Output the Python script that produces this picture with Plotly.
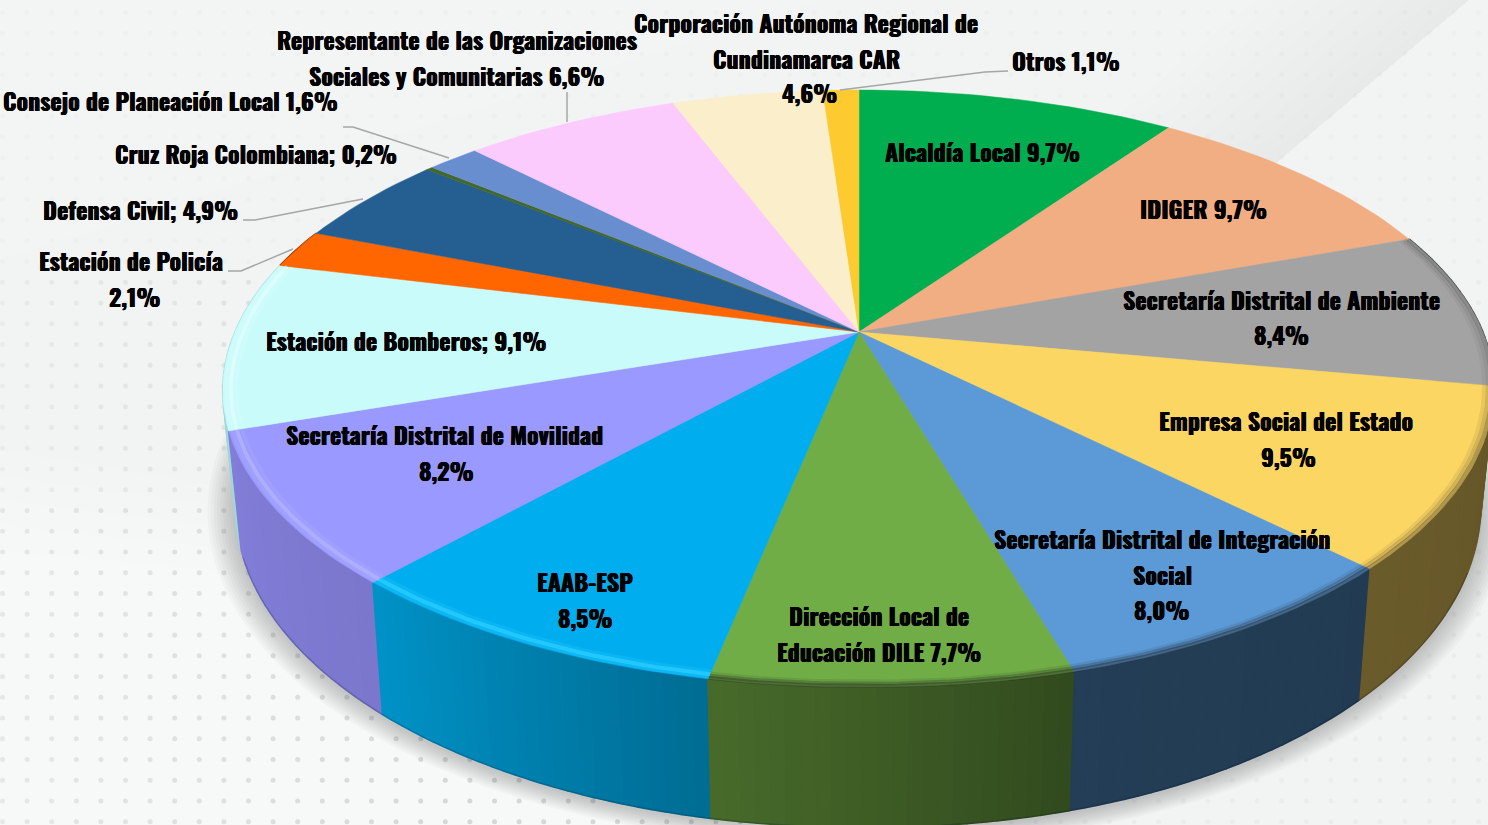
import numpy as np
import plotly.graph_objects as go

# ---------- data ----------
categories = ["Alcaldía Local", "IDIGER", "Secretaría Distrital de Ambiente", "Empresa Social del Estado",
              "Secretaría Distrital de Integración Social", "Dirección Local de Educación DILE", "EAAB-ESP",
              "Secretaría Distrital de Movilidad", "Estación de Bomberos", "Estación de Policía", "Defensa Civil",
              "Cruz Roja Colombiana", "Consejo de Planeación Local",
              "Representante de las Organizaciones Sociales y Comunitarias",
              "Corporación Autónoma Regional de Cundinamarca CAR", "Otros"]
values = [9.7, 9.7, 8.4, 9.5, 8.0, 7.7, 8.5, 8.2, 9.1, 2.1, 4.9, 0.2, 1.6, 6.6, 4.6, 1.1]

# ---------- styles ----------
top_colors = ["#00ae50", "#f1ae82", "#a3a3a3", "#fcd663", "#5b9ad6", "#70ad47", "#00aeef", "#9999ff",
              "#c9fbfb", "#ff6600", "#255e91", "#43682b", "#698ed0", "#fccbfe", "#fbeecb", "#fdcb2f"]
wall_colors = ["#005a2a", "#7d5a43", "#4f4f4f", "#68592a", "#233d55", "#3d5b25", "#0080ae", "#7f7bd3",
               "#a5dcdc", "#853500", "#133150", "#233616", "#37496c", "#836a84", "#827b69", "#836a18"]
wall_gradient = [0.03, 0.03, 0.03, 0.03, 0.02, 0.18, 0.15, 0.03, 0.03, 0.03, 0.03, 0.03, 0.03, 0.03, 0.03, 0.03]
rim_light = {6: ("40,205,255", 1.0), 7: ("178,178,255", 1.0), 8: ("238,255,255", 0.55)}
rim_dark = {2: 0.45, 3: 0.8, 4: 1.0, 5: 1.0}
FONT = "Liberation Sans Narrow, Oswald, Roboto, sans-serif"
TEXT_SIZE = 24

label_lines = [
    ("Alcaldía Local 9,7%", 982, 151), ("IDIGER 9,7%", 1203, 208),
    ("Secretaría Distrital de Ambiente", 1281, 299), ("8,4%", 1281, 334),
    ("Empresa Social del Estado", 1286, 420), ("9,5%", 1288, 456),
    ("Secretaría Distrital de Integración", 1162, 538), ("Social", 1162, 574), ("8,0%", 1162, 609),
    ("Dirección Local de", 879, 615), ("Educación DILE 7,7%", 879, 651),
    ("EAAB-ESP", 585, 581), ("8,5%", 585, 617),
    ("Secretaría Distrital de Movilidad", 444, 434), ("8,2%", 446, 470),
    ("Estación de Bomberos; 9,1%", 406, 340),
    ("Estación de Policía", 131, 260), ("2,1%", 134, 296),
    ("Defensa Civil; 4,9%", 140, 209),
    ("Cruz Roja Colombiana; 0,2%", 256, 153),
    ("Consejo de Planeación Local 1,6%", 170, 100),
    ("Representante de las Organizaciones", 457, 39), ("Sociales y Comunitarias 6,6%", 457, 75),
    ("Corporación Autónoma Regional de", 806, 22), ("Cundinamarca CAR", 806, 58), ("4,6%", 809, 92),
    ("Otros 1,1%", 1066, 60),
]
leaders = [
    ([1008, 985, 840], [71, 72, 90]),
    ([343, 353, 449], [127, 127, 158]),
    ([243, 255, 363], [220, 220, 199]),
    ([228, 241, 293], [271, 271, 249]),
    ([567, 567], [92, 122]),
]

# ---------- projection of the tilted disc ----------
CX, CY, A, B, K = 859.0, 332.0, 624.0, 287.7, 0.189
BOT_CY, BOT_SX, BOT_SY = 444.0, 0.98, 1.08


def top_xy(theta_deg, scale=1.0):
    t = np.radians(theta_deg)
    s = 1.0 / (1.0 + K * np.cos(t))
    dx, dy = scale * A * np.sin(t) * s, -scale * B * np.cos(t) * s
    sx = dx - 0.014 * np.maximum(dy, 0)
    sy = dy + 4.2e-5 * np.maximum(dx, 0) * np.maximum(dy, 0)
    return CX + sx, CY + sy


def bot_xy(theta_deg, scale=1.0):
    x, y = top_xy(theta_deg)
    return CX + scale * BOT_SX * (x - CX), BOT_CY + scale * BOT_SY * (y - CY)


def shade(hex_color, f):
    r, g, b = [int(hex_color[i:i + 2], 16) for i in (1, 3, 5)]
    return "rgb(%d,%d,%d)" % tuple(min(255, int(c * f)) for c in (r, g, b))


fig = go.Figure()


def poly(x, y, color, line=0.6):
    fig.add_trace(go.Scatter(x=list(x), y=list(y), mode="lines", fill="toself", fillcolor=color,
                             line=dict(color=color, width=line), hoverinfo="skip", showlegend=False))


def stroke(x, y, color, width):
    fig.add_trace(go.Scatter(x=list(x), y=list(y), mode="lines", line=dict(color=color, width=width),
                             hoverinfo="skip", showlegend=False))


# ---------- background ----------
for k in range(5):
    top = 450 + 25 * k
    poly([0, 0, 300 + 60 * k, 900, 0], [825, top, top + 50, 825, 825], "rgba(255,255,255,0.13)", 0)
poly([0, 0, 270, 820], [260, 0, 0, 0], "rgba(255,255,255,0.10)", 0)
for k in range(10):
    off = 18 + 22 * k
    poly([1470, 1180, 1180 - off, 1470 - off], [0, 245, 245, 0], "rgba(0,0,0,0.0035)", 0)

gx, gy = np.meshgrid(np.arange(2.5, 1488, 24.6), np.arange(12.5, 825, 20.75))
gx, gy = gx.ravel(), gy.ravel()
alpha = np.where(gy > 280,
                 np.where(gx < 760, 0.045 + 0.09 * np.clip(gx / 450, 0, 1) + 0.04 * (gy > 500), 0.035),
                 0.018)
fig.add_trace(go.Scatter(x=gx, y=gy, mode="markers", hoverinfo="skip", showlegend=False,
                         marker=dict(size=5, line=dict(width=0),
                                     color=["rgba(60,60,60,%.3f)" % a for a in alpha])))

# ---------- soft shadow below the pie ----------
sweep = np.linspace(0, 360, 241)
for i in range(9):
    sx, sy = bot_xy(sweep, 1.0 + 0.005 * (9 - i))
    poly(sx, sy + 2, "rgba(0,0,0,0.024)", 0)

# ---------- slice geometry ----------
total = sum(values)
edges = np.concatenate([[0.0], np.cumsum(values)]) / total * 360.0

# walls, painted from the back to the front
order = sorted(range(len(values)), key=lambda i: -abs((edges[i] + edges[i + 1]) / 2 - 180))
for i in order:
    a0, a1 = edges[i], edges[i + 1]
    if np.cos(np.radians((a0 + a1) / 2)) > 0.45:
        continue
    n = max(1, int(np.ceil((a1 - a0) / 1.2)))
    cuts = np.linspace(a0, a1, n + 1)
    for j in range(n):
        th = np.linspace(cuts[j], cuts[j + 1], 3)
        tx, ty = top_xy(th)
        bx, by = bot_xy(th)
        g = wall_gradient[i]
        # the lit side of the wall is the one turned to the left of the picture
        f = 1.0 - g + 2 * g * (j + 0.5) / n
        poly(np.r_[tx, bx[::-1]], np.r_[ty, by[::-1]], shade(wall_colors[i], f), 1.6)

rim_th = np.linspace(112, 250, 100)
rx, ry = bot_xy(rim_th)
stroke(rx, ry, "rgba(0,20,40,0.20)", 1.4)

# top faces
for i in range(len(values)):
    th = np.linspace(edges[i], edges[i + 1], max(3, int((edges[i + 1] - edges[i]) / 1.5) + 2))
    x, y = top_xy(th)
    poly(np.r_[CX, x, CX], np.r_[CY, y, CY], top_colors[i], 0.5)

# bevel on the rim
dark_bands = [(0.997, 4.0, 0.42), (0.991, 4.0, 0.24), (0.985, 4.0, 0.10)]
light_bands = [(0.994, 4.0, 0.30), (0.987, 4.0, 0.85), (0.979, 4.0, 0.25)]
for i in range(len(values)):
    th = np.linspace(edges[i], edges[i + 1], 30)
    if i in rim_dark:
        for sc, w, al in dark_bands:
            x, y = top_xy(th, sc)
            stroke(x, y, "rgba(30,30,30,%.2f)" % (al * rim_dark[i]), w)
    elif i in rim_light:
        rgb, strength = rim_light[i]
        for sc, w, al in light_bands:
            x, y = top_xy(th, sc)
            stroke(x, y, "rgba(%s,%.2f)" % (rgb, al * strength), w)

# leader lines
for lx, ly in leaders:
    stroke(lx, ly, "#a6a6a6", 1.5)

# ---------- text ----------
annotations = [dict(x=x, y=y, text="<b>%s</b>" % t, showarrow=False, xanchor="center", yanchor="middle",
                    font=dict(family=FONT, size=TEXT_SIZE, color="#000000",
                              shadow="0.35px 0 0 #000, -0.35px 0 0 #000"))
               for t, x, y in label_lines]

fig.update_layout(
    width=1488, height=825, autosize=False, margin=dict(l=0, r=0, t=0, b=0),
    paper_bgcolor="#f2f3f3", plot_bgcolor="#f2f3f3", showlegend=False, annotations=annotations,
    xaxis=dict(range=[0, 1488], visible=False, fixedrange=True),
    yaxis=dict(range=[825, 0], visible=False, fixedrange=True),
)
fig.write_html("out.html", config=dict(displayModeBar=False),
               post_script="document.body.style.margin='0';document.body.style.overflow='hidden';")
